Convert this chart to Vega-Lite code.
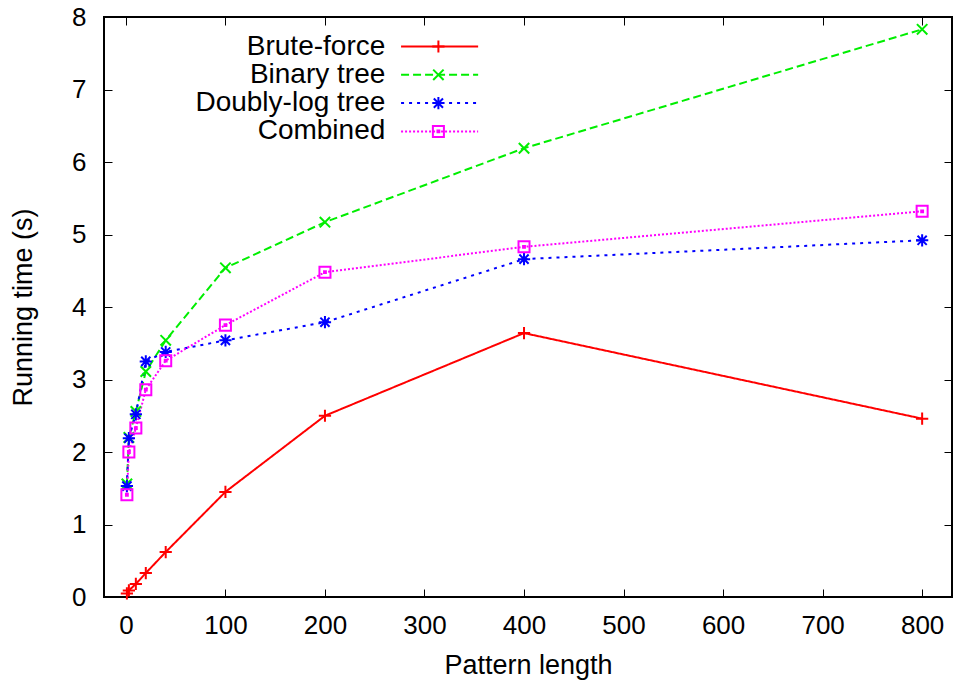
{
  "$schema": "https://vega.github.io/schema/vega-lite/v6.json",
  "width": 848,
  "height": 580,
  "autosize": {"type": "none"},
  "padding": {"left": 104, "top": 17, "right": 2, "bottom": 88},
  "background": "white",
  "config": {
    "font": "Liberation Sans",
    "view": {"stroke": "#000", "strokeWidth": 2},
    "axis": {
      "grid": false,
      "domain": false,
      "ticks": true,
      "tickSize": -8,
      "tickColor": "#000",
      "tickWidth": 1,
      "labelFont": "Liberation Sans",
      "labelFontSize": 26,
      "labelColor": "#000",
      "titleFont": "Liberation Sans",
      "titleFontSize": 27,
      "titleFontWeight": "normal",
      "titleColor": "#000"
    }
  },
  "data": {
    "values": [
      {"x": 1, "t": 0.05, "series": "Brute-force"},
      {"x": 3, "t": 0.09, "series": "Brute-force"},
      {"x": 10, "t": 0.18, "series": "Brute-force"},
      {"x": 20, "t": 0.33, "series": "Brute-force"},
      {"x": 40, "t": 0.62, "series": "Brute-force"},
      {"x": 100, "t": 1.45, "series": "Brute-force"},
      {"x": 200, "t": 2.5, "series": "Brute-force"},
      {"x": 400, "t": 3.64, "series": "Brute-force"},
      {"x": 800, "t": 2.46, "series": "Brute-force"},
      {"x": 1, "t": 1.56, "series": "Binary tree"},
      {"x": 3, "t": 2.2, "series": "Binary tree"},
      {"x": 10, "t": 2.56, "series": "Binary tree"},
      {"x": 20, "t": 3.11, "series": "Binary tree"},
      {"x": 40, "t": 3.54, "series": "Binary tree"},
      {"x": 100, "t": 4.54, "series": "Binary tree"},
      {"x": 200, "t": 5.17, "series": "Binary tree"},
      {"x": 400, "t": 6.19, "series": "Binary tree"},
      {"x": 800, "t": 7.83, "series": "Binary tree"},
      {"x": 1, "t": 1.53, "series": "Doubly-log tree"},
      {"x": 3, "t": 2.19, "series": "Doubly-log tree"},
      {"x": 10, "t": 2.52, "series": "Doubly-log tree"},
      {"x": 20, "t": 3.25, "series": "Doubly-log tree"},
      {"x": 40, "t": 3.38, "series": "Doubly-log tree"},
      {"x": 100, "t": 3.54, "series": "Doubly-log tree"},
      {"x": 200, "t": 3.79, "series": "Doubly-log tree"},
      {"x": 400, "t": 4.66, "series": "Doubly-log tree"},
      {"x": 800, "t": 4.92, "series": "Doubly-log tree"},
      {"x": 1, "t": 1.41, "series": "Combined"},
      {"x": 3, "t": 2.0, "series": "Combined"},
      {"x": 10, "t": 2.33, "series": "Combined"},
      {"x": 20, "t": 2.86, "series": "Combined"},
      {"x": 40, "t": 3.26, "series": "Combined"},
      {"x": 100, "t": 3.75, "series": "Combined"},
      {"x": 200, "t": 4.48, "series": "Combined"},
      {"x": 400, "t": 4.83, "series": "Combined"},
      {"x": 800, "t": 5.32, "series": "Combined"}
    ]
  },
  "resolve": {"axis": {"x": "independent", "y": "independent"}},
  "layer": [
    {
      "mark": {"type": "line", "strokeWidth": 2},
      "encoding": {
        "x": {
          "field": "x", "type": "quantitative",
          "scale": {"domain": [-22, 830], "nice": false, "zero": false},
          "axis": {"values": [0, 100, 200, 300, 400, 500, 600, 700, 800], "title": "Pattern length", "labelPadding": 23.5, "titlePadding": 14}
        },
        "y": {
          "field": "t", "type": "quantitative",
          "scale": {"domain": [0, 8], "nice": false},
          "axis": {"values": [0, 1, 2, 3, 4, 5, 6, 7, 8], "title": "Running time (s)", "labelPadding": 26, "titlePadding": 34}
        },
        "color": {
          "field": "series", "type": "nominal",
          "scale": {"domain": ["Brute-force", "Binary tree", "Doubly-log tree", "Combined"], "range": ["#ff0000", "#00ee00", "#0000ff", "#ff00ff"]},
          "legend": {
            "orient": "none", "legendX": 321.6, "legendY": 15.5, "title": null,
            "symbolType": "M-3,0H3", "symbolSize": 660, "symbolStrokeWidth": 2,
            "labelFontSize": 28, "labelFont": "Liberation Sans", "labelColor": "#000",
            "labelAlign": "right", "labelOffset": -68.3, "rowPadding": 0.3, "labelLimit": 400
          }
        },
        "strokeDash": {
          "field": "series", "type": "nominal",
          "scale": {"domain": ["Brute-force", "Binary tree", "Doubly-log tree", "Combined"], "range": [[1, 0], [8, 4], [3, 5], [2, 2]]},
          "legend": {
            "orient": "none", "legendX": 321.6, "legendY": 15.5, "title": null,
            "symbolType": "M-3,0H3", "symbolSize": 660, "symbolStrokeWidth": 2,
            "labelFontSize": 28, "labelFont": "Liberation Sans", "labelColor": "#000",
            "labelAlign": "right", "labelOffset": -68.3, "rowPadding": 0.3, "labelLimit": 400
          }
        }
      }
    },
    {
      "mark": {"type": "point", "filled": false, "strokeWidth": 2, "size": 150, "opacity": 1},
      "encoding": {
        "x": {"field": "x", "type": "quantitative", "axis": null},
        "y": {"field": "t", "type": "quantitative", "axis": null},
        "color": {"field": "series", "type": "nominal", "legend": null},
        "shape": {
          "field": "series", "type": "nominal",
          "sort": ["Brute-force", "Binary tree", "Doubly-log tree", "Combined"],
          "scale": {"range": ["M-1,0H1M0,-1V1", "M-0.85,-0.85L0.85,0.85M-0.85,0.85L0.85,-0.85", "M-1,0H1M0,-1V1M-0.75,-0.75L0.75,0.75M-0.75,0.75L0.75,-0.75", "M-0.9,-0.9H0.9V0.9H-0.9ZM-0.15,-0.15H0.15V0.15H-0.15Z"]},
          "legend": {
            "orient": "none", "legendX": 320.4, "legendY": 15.5, "title": null,
            "symbolSize": 150, "symbolStrokeWidth": 2, "symbolFillColor": "transparent",
            "symbolStrokeColor": {"expr": "scale('color', datum.value)"},
            "labelFontSize": 28, "labelOpacity": 0, "rowPadding": 0.3
          }
        }
      }
    },
    {
      "mark": {"type": "point", "opacity": 0},
      "encoding": {
        "x": {"field": "x", "type": "quantitative", "axis": {"orient": "top", "labels": false, "title": null, "values": [0, 100, 200, 300, 400, 500, 600, 700, 800]}},
        "y": {"field": "t", "type": "quantitative", "axis": {"orient": "right", "labels": false, "title": null, "values": [0, 1, 2, 3, 4, 5, 6, 7, 8]}}
      }
    }
  ]
}
